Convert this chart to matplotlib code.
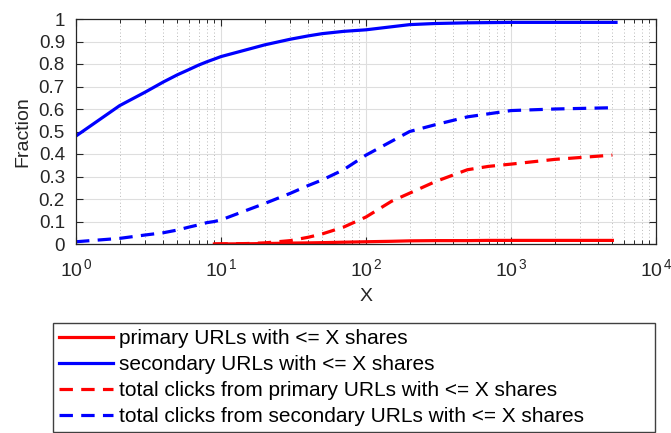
import matplotlib
matplotlib.use("Agg")
import matplotlib.pyplot as plt
from matplotlib.ticker import FixedLocator, FixedFormatter, LogLocator, NullFormatter
import numpy as np

plt.rcParams['font.family'] = ['Liberation Sans', 'DejaVu Sans']
plt.rcParams['mathtext.fontset'] = 'custom'
plt.rcParams['mathtext.rm'] = 'Liberation Sans'
plt.rcParams['mathtext.it'] = 'Liberation Sans:italic'
plt.rcParams['mathtext.bf'] = 'Liberation Sans:bold'

# ---- data ----
x_secondary = [1, 2, 3, 4, 5, 6, 7, 8, 9, 10, 20, 30, 40, 50, 70, 100, 200, 300, 500, 1000, 2000, 5300]
secondary_urls = [0.48, 0.615, 0.675, 0.72, 0.752, 0.775, 0.795, 0.81, 0.822, 0.833, 0.885, 0.91,
                  0.925, 0.935, 0.945, 0.952, 0.975, 0.98, 0.983, 0.985, 0.985, 0.985]
secondary_clicks = [0.01, 0.025, 0.04, 0.05, 0.062, 0.075, 0.085, 0.095, 0.10, 0.107, 0.18, 0.225,
                    0.26, 0.285, 0.33, 0.395, 0.50, 0.53, 0.565, 0.593, 0.60, 0.606]

x_primary = [9, 15, 20, 30, 40, 50, 70, 100, 150, 200, 300, 500, 700, 1000, 2000, 5000]
primary_urls = [0.0, 0.001, 0.002, 0.004, 0.005, 0.006, 0.008, 0.010, 0.012, 0.014, 0.015, 0.015,
                0.016, 0.016, 0.016, 0.016]
primary_clicks = [0.0, 0.002, 0.005, 0.015, 0.03, 0.045, 0.075, 0.12, 0.19, 0.226, 0.277, 0.33,
                  0.345, 0.355, 0.376, 0.395]

labels = ["primary URLs with <= X shares",
          "secondary URLs with <= X shares",
          "total clicks from primary URLs with <= X shares",
          "total clicks from secondary URLs with <= X shares"]

y_ticks = [0, 0.1, 0.2, 0.3, 0.4, 0.5, 0.6, 0.7, 0.8, 0.9, 1]
y_tick_labels = ["0", "0.1", "0.2", "0.3", "0.4", "0.5", "0.6", "0.7", "0.8", "0.9", "1"]
x_ticks = [1, 10, 100, 1000, 10000]
x_tick_labels = [r"$\mathregular{10^{\,0}}$", r"$\mathregular{10^{\,1}}$", r"$\mathregular{10^{\,2}}$",
                 r"$\mathregular{10^{\,3}}$", r"$\mathregular{10^{\,4}}$"]

# ---- styling ----
txt = "#262626"
W, H = 671, 433
fig = plt.figure(figsize=(W / 100, H / 100), dpi=100)
ax = fig.add_axes([76 / W, 1 - 244 / H, (656 - 76) / W, (244 - 19) / H])

lw = 2.3
dash = (4.2, 2.6)
l1, = ax.plot(x_primary, primary_urls, color=(1, 0, 0), lw=lw, label=labels[0])
l2, = ax.plot(x_secondary, secondary_urls, color=(0, 0, 1), lw=lw, label=labels[1])
l3, = ax.plot(x_primary, primary_clicks, color=(1, 0, 0), lw=lw, dashes=dash, label=labels[2])
l4, = ax.plot(x_secondary, secondary_clicks, color=(0, 0, 1), lw=lw, dashes=dash, label=labels[3])

ax.set_xscale("log")
ax.set_xlim(1, 10000)
ax.set_ylim(0, 1)
ax.xaxis.set_major_locator(FixedLocator(x_ticks))
ax.xaxis.set_major_formatter(FixedFormatter(x_tick_labels))
ax.xaxis.set_minor_locator(LogLocator(base=10, subs=np.arange(2, 10)))
ax.xaxis.set_minor_formatter(NullFormatter())
ax.yaxis.set_major_locator(FixedLocator(y_ticks))
ax.yaxis.set_major_formatter(FixedFormatter(y_tick_labels))

ax.grid(True, which="major", color="#dedede", lw=0.8, ls="-")
ax.grid(True, which="minor", axis="x", color="#b8b8b8", lw=0.7, ls=(0, (1, 2.5)))
ax.set_axisbelow(True)

for s in ax.spines.values():
    s.set_color(txt)
    s.set_linewidth(0.9)
ax.tick_params(which="both", direction="in", top=True, right=True, colors=txt,
               labelcolor=txt, labelsize=13.5)
ax.tick_params(which="major", length=5, width=0.8)
ax.tick_params(which="minor", length=3, width=0.7)
ax.tick_params(axis="x", which="major", pad=10, labelsize=14)
ax.tick_params(axis="y", which="major", pad=8)

ax.set_xlabel("X", fontsize=14, color=txt, labelpad=6)
ax.set_ylabel("Fraction", fontsize=14, color=txt, labelpad=5)

leg = fig.legend(handles=[l1, l2, l3, l4], loc="upper left",
                 bbox_to_anchor=(53 / W, 1 - 432 / H, (655 - 53) / W, (432 - 323) / H),
                 mode="expand", fontsize=15, frameon=True, fancybox=False,
                 edgecolor="#404040", framealpha=1, handlelength=2.6, handletextpad=0.25,
                 borderpad=0.3, labelspacing=0.33, borderaxespad=0)
leg.get_frame().set_linewidth(1.0)

fig.savefig("out.png", dpi=100)
